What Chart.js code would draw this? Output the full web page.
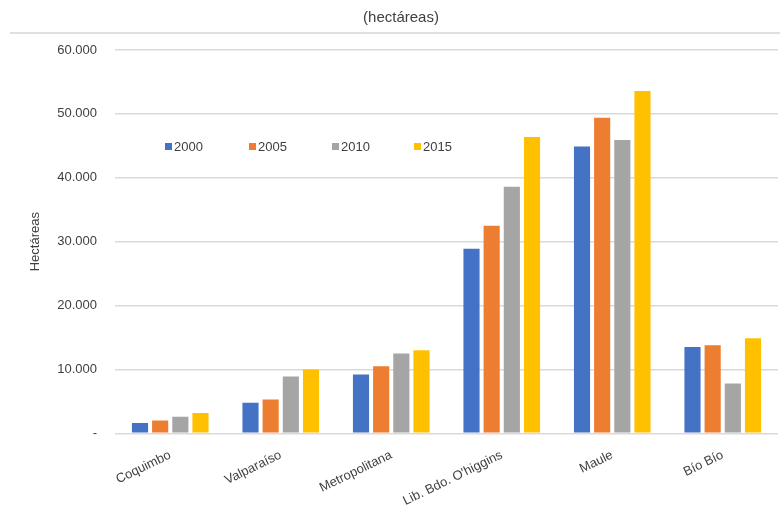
<!DOCTYPE html>
<html lang="es">
<head>
    <meta charset="UTF-8">
    <title>Superficie plantada (hectáreas)</title>
    <style>
        html, body { margin: 0; padding: 0; background: #fff; }
        #wrap { width: 780px; height: 529px; }
    </style>
    <script src="https://cdn.jsdelivr.net/npm/chart.js"></script>
</head>
<body>
    <div id="wrap"><canvas id="chart"></canvas></div>
    <script>
        const regiones = ['Coquimbo', 'Valparaíso', 'Metropolitana', 'Lib. Bdo. O\'higgins', 'Maule', 'Bío Bío'];
        const anios = ['2000', '2005', '2010', '2015'];
        const ha2000 = [1600, 4800, 9200, 28900, 44900, 13500];
        const ha2005 = [2000, 5300, 10500, 32500, 49400, 13800];
        const ha2010 = [2600, 8900, 12500, 38600, 45900, 7800];
        const ha2015 = [3200, 10000, 13000, 46400, 53600, 14900];
        const colores = ['#4472c4', '#ed7d31', '#a5a5a5', '#ffc000'];

        const fuente = "'Liberation Sans', Arial, sans-serif";

        // legend drawn inside the plot, like the original
        const leyendaInterna = {
            id: 'leyendaInterna',
            afterDraw(chart) {
                const ctx = chart.ctx;
                const xs = [165, 249, 332, 414];
                const y = 147;
                ctx.save();
                ctx.font = '13px ' + fuente;
                ctx.textBaseline = 'middle';
                chart.data.datasets.forEach((ds, i) => {
                    ctx.fillStyle = ds.backgroundColor;
                    ctx.fillRect(xs[i], y - 4, 7, 7);
                    ctx.fillStyle = '#404040';
                    ctx.fillText(ds.label, xs[i] + 9, y);
                });
                // thin rule under the title
                ctx.strokeStyle = '#e0e0e0';
                ctx.lineWidth = 2;
                ctx.beginPath();
                ctx.moveTo(10, 33);
                ctx.lineTo(780, 33);
                ctx.stroke();
                ctx.restore();
            }
        };

        const series = [ha2000, ha2005, ha2010, ha2015];

        new Chart(document.getElementById('chart'), {
            type: 'bar',
            data: {
                labels: regiones,
                datasets: series.map((d, i) => ({
                    label: anios[i],
                    data: d,
                    backgroundColor: colores[i],
                    categoryPercentage: 0.73,
                    barPercentage: 0.8
                }))
            },
            options: {
                responsive: true,
                maintainAspectRatio: false,
                animation: false,
                layout: { padding: { left: 24, right: 2, top: 0, bottom: 14 } },
                plugins: {
                    legend: { display: false },
                    tooltip: { enabled: false },
                    title: {
                        display: true,
                        text: '(hectáreas)',
                        color: '#404040',
                        font: { family: fuente, size: 15, weight: 'normal' },
                        padding: { top: 9, bottom: 23 }
                    }
                },
                scales: {
                    x: {
                        grid: { display: false },
                        border: { display: false },
                        ticks: {
                            color: '#404040',
                            font: { family: fuente, size: 13 },
                            minRotation: 26,
                            maxRotation: 26,
                            padding: 6
                        }
                    },
                    y: {
                        min: 0,
                        max: 60000,
                        grid: { color: '#d9d9d9', lineWidth: 1.5, drawTicks: false },
                        border: { display: false },
                        afterFit(axis) { axis.width = 91; },
                        title: {
                            display: true,
                            text: 'Hectáreas',
                            color: '#404040',
                            font: { family: fuente, size: 13 },
                            padding: { bottom: 2 }
                        },
                        ticks: {
                            stepSize: 10000,
                            color: '#404040',
                            padding: 18,
                            font: { family: fuente, size: 13 },
                            callback: v => v === 0 ? '-' : v.toLocaleString('de-DE')
                        }
                    }
                }
            },
            plugins: [leyendaInterna]
        });
    </script>
</body>
</html>
